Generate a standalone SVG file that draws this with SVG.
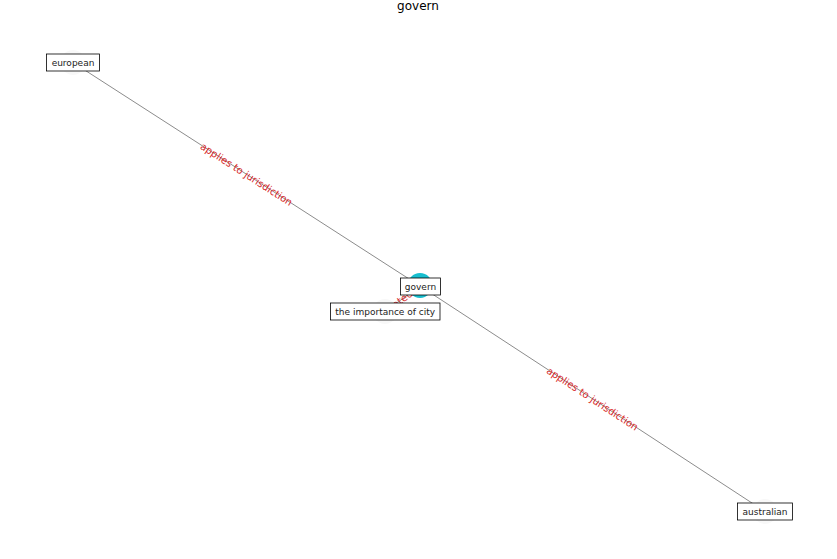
<svg xmlns="http://www.w3.org/2000/svg" width="837" height="559" viewBox="0 0 837 559">
<style>
.edge{stroke:#8c8c8c;stroke-width:1;fill:none}
.elabel{font-family:"DejaVu Sans",sans-serif;font-size:10px;fill:#d62728;text-anchor:middle;dominant-baseline:central}
.box{fill:#ffffff;stroke:#000000;stroke-width:0.8}
.nlabel{font-family:"DejaVu Sans",sans-serif;font-size:9px;fill:#222222;text-anchor:middle;dominant-baseline:central}
.faint{fill:#f8f8f8}
.title{font-family:"DejaVu Sans",sans-serif;font-size:12px;fill:#000000;text-anchor:middle}
</style>
<rect width="837" height="559" fill="#ffffff"/>
<text class="title" x="418" y="10">govern</text>
<g id="connectors">
<line class="edge" x1="73" y1="62.5" x2="420" y2="286"/>
<line class="edge" x1="420" y1="286" x2="765" y2="511.5"/>
<line class="edge" x1="420" y1="286" x2="385" y2="311.5"/>
<text class="elabel" transform="translate(246.5,174.3) rotate(32.8)">applies to jurisdiction</text>
<text class="elabel" transform="translate(592.5,398.8) rotate(33.2)">applies to jurisdiction</text>
<text class="elabel" transform="translate(402.5,298.8) rotate(-36.1)">related to</text>
</g>
<g id="node-european">
<circle class="faint" cx="73" cy="62.5" r="12.5"/>
<rect class="box" x="46.5" y="54" width="53" height="17"/>
<text class="nlabel" x="73" y="62.5">european</text>
</g>
<g id="node-australian">
<circle class="faint" cx="765" cy="511.5" r="12.5"/>
<rect class="box" x="737.5" y="503" width="55" height="17"/>
<text class="nlabel" x="765" y="511.5">australian</text>
</g>
<g id="node-importance">
<circle class="faint" cx="385" cy="311.5" r="12.5"/>
<rect class="box" x="330.5" y="303" width="109.5" height="17"/>
<text class="nlabel" x="385.2" y="311.5">the importance of city</text>
</g>
<g id="node-govern">
<circle cx="420" cy="285.5" r="12.5" fill="#17becf"/>
<rect class="box" x="400.5" y="278" width="40" height="17"/>
<text class="nlabel" x="420.5" y="286.5">govern</text>
</g>
</svg>
